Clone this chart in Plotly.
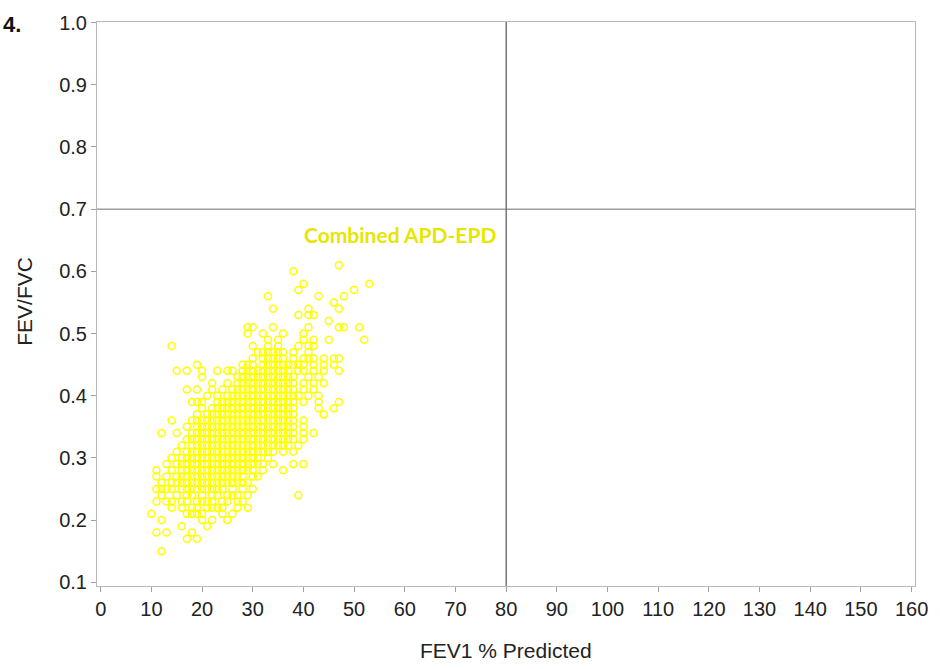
import plotly.graph_objects as go

# FEV/FVC rows (y values) and the FEV1 % predicted values (x) observed on each row
row_fev_fvc = [0.15, 0.17, 0.18, 0.19, 0.20, 0.21, 0.22, 0.23, 0.24, 0.25,
               0.26, 0.27, 0.28, 0.29, 0.30, 0.31, 0.32, 0.33, 0.34, 0.35,
               0.36, 0.37, 0.38, 0.39, 0.40, 0.41, 0.42, 0.43, 0.44, 0.45,
               0.46, 0.47, 0.48, 0.49, 0.50, 0.51, 0.52, 0.53, 0.54, 0.55,
               0.56, 0.57, 0.58, 0.60, 0.61]
row_fev1_pct = [
    [12],
    [17, 19],
    [11, 13, 18],
    [16, 21],
    [12, 20, 22, 25],
    [10, 17, 18, 19, 20, 24, 26],
    [14, 16, 18, 19, 21, 22, 23, 24, 27, 29],
    [11, 13, 14, 16, 17, 19, 20, 21, 22, 24, 25, 27, 28],
    [12, 15, 17, 18, 20, 22, 23, 25, 26, 27, 29, 39],
    [11, 12, 13, 14, 16, 17, 18, 19, 20, 21, 22, 23, 24, 26, 28, 30],
    [12, 14, 15, 16, 17, 18, 19, 20, 21, 22, 23, 24, 25, 26, 27, 28, 29],
    [11, 13, 15, 16, 17, 18, 19, 20, 21, 22, 23, 24, 25, 26, 27, 28, 30, 31],
    [11, 14, 16, 17, 18, 19, 20, 21, 22, 23, 24, 25, 26, 27, 28, 29, 30, 32, 36],
    [13, 15, 16, 17, 18, 19, 20, 21, 22, 23, 24, 25, 26, 27, 28, 29, 30, 31, 32, 34, 38, 40],
    [14, 16, 17, 18, 19, 20, 21, 22, 23, 24, 25, 26, 27, 28, 29, 30, 31, 33],
    [15, 17, 18, 19, 20, 21, 22, 23, 24, 25, 26, 27, 28, 29, 30, 31, 32, 33, 34, 36, 38],
    [16, 18, 19, 20, 21, 22, 23, 24, 25, 26, 27, 28, 29, 30, 31, 32, 33, 34, 35, 36, 37, 39],
    [17, 18, 19, 20, 21, 22, 23, 24, 25, 26, 27, 28, 29, 30, 31, 32, 33, 34, 35, 36, 37, 38, 40],
    [12, 15, 18, 19, 20, 21, 22, 23, 24, 25, 26, 27, 28, 29, 30, 31, 32, 33, 34, 35, 36, 37, 38, 40, 42],
    [17, 19, 20, 21, 22, 23, 24, 25, 26, 27, 28, 29, 30, 31, 32, 33, 34, 35, 36, 37, 38, 40],
    [14, 18, 19, 20, 21, 22, 23, 24, 25, 26, 27, 28, 29, 30, 31, 32, 33, 34, 35, 36, 37, 38, 40],
    [19, 21, 22, 23, 24, 25, 26, 27, 28, 29, 30, 31, 32, 33, 34, 35, 36, 37, 38, 44],
    [20, 22, 23, 24, 25, 26, 27, 28, 29, 30, 31, 32, 33, 34, 35, 36, 37, 38, 43, 46],
    [18, 19, 20, 23, 24, 25, 26, 27, 28, 29, 30, 31, 32, 33, 34, 35, 36, 37, 38, 40, 43, 47],
    [21, 23, 25, 26, 27, 28, 29, 30, 31, 32, 33, 34, 35, 36, 37, 38, 39, 41, 43],
    [17, 19, 22, 24, 26, 27, 28, 29, 30, 31, 32, 33, 34, 35, 36, 37, 38, 40, 42],
    [22, 25, 27, 28, 29, 30, 31, 32, 33, 34, 35, 36, 37, 38, 40, 42, 44],
    [20, 27, 28, 29, 30, 31, 32, 33, 34, 35, 36, 37, 38, 41, 43],
    [15, 17, 20, 23, 25, 26, 28, 29, 30, 31, 32, 33, 34, 35, 36, 37, 39, 40, 42, 44, 47],
    [19, 28, 29, 30, 32, 33, 34, 35, 36, 37, 38, 39, 40, 42, 44, 46],
    [30, 32, 33, 34, 35, 36, 38, 40, 41, 42, 44, 46, 47],
    [31, 32, 33, 34, 35, 36, 38, 41],
    [14, 30, 33, 35, 39, 41, 42],
    [33, 35, 40, 42, 45, 52],
    [29, 32, 36, 40],
    [29, 30, 34, 41, 47, 48, 51],
    [45],
    [39, 41, 42],
    [34, 41, 47],
    [46],
    [33, 43, 48],
    [39, 50],
    [40, 53],
    [38],
    [47],
]

x_ticks = list(range(0, 161, 10))
y_ticks = [0.1, 0.2, 0.3, 0.4, 0.5, 0.6, 0.7, 0.8, 0.9, 1.0]
fev1_cut = 80
ratio_cut = 0.7
group_label = "Combined APD-EPD"

xs, ys = [], []
for yv, row in zip(row_fev_fvc, row_fev1_pct):
    for xv in row:
        xs.append(xv)
        ys.append(yv)

fig = go.Figure()
fig.add_trace(go.Scatter(
    x=xs, y=ys, mode="markers",
    marker=dict(symbol="circle-open", size=7, color="#FFFF00",
                line=dict(width=1.5, color="#FFFF00")),
    showlegend=False, hoverinfo="x+y",
))

fig.add_shape(type="line", xref="x", yref="paper", x0=fev1_cut, x1=fev1_cut,
              y0=0, y1=1, line=dict(color="#333333", width=1))
fig.add_shape(type="line", xref="paper", yref="y", x0=0, x1=1,
              y0=ratio_cut, y1=ratio_cut, line=dict(color="#6e6e6e", width=1))

fig.add_annotation(x=59, y=0.659, xref="x", yref="y", text=group_label,
                   showarrow=False, xanchor="center", yanchor="middle",
                   font=dict(family="Lato", size=21, color="#E6E600", weight="bold"))
fig.add_annotation(x=-0.091, y=0.995, xref="paper", yref="paper", text="<b>4.</b>",
                   showarrow=False, xanchor="right", yanchor="middle",
                   font=dict(family="Liberation Sans", size=22, color="#111111"))
fig.add_annotation(x=0.5, y=-0.115, xref="paper", yref="paper", text="FEV1 % Predicted",
                   showarrow=False, xanchor="center", yanchor="middle",
                   font=dict(family="Liberation Sans", size=21, color="#222222"))
fig.add_annotation(x=-0.088, y=0.504, xref="paper", yref="paper", text="FEV/FVC",
                   showarrow=False, xanchor="center", yanchor="middle", textangle=-90,
                   font=dict(family="Liberation Sans", size=21, color="#222222"))

axis_common = dict(showgrid=False, zeroline=False, showline=True, linecolor="#b8b8b8",
                   linewidth=1, mirror=True, ticks="outside", ticklen=5,
                   tickcolor="#a0a0a0", tickwidth=1,
                   tickfont=dict(family="Liberation Sans", size=20, color="#222222"))

fig.update_layout(
    width=940, height=669,
    margin=dict(l=97, r=22, t=20, b=83),
    paper_bgcolor="white", plot_bgcolor="white",
    xaxis=dict(range=[-0.73, 160.67], tickvals=x_ticks, **axis_common),
    yaxis=dict(range=[0.094, 1.001], tickvals=y_ticks, tickformat=".1f", **axis_common),
)

fig.write_html("out.html")
